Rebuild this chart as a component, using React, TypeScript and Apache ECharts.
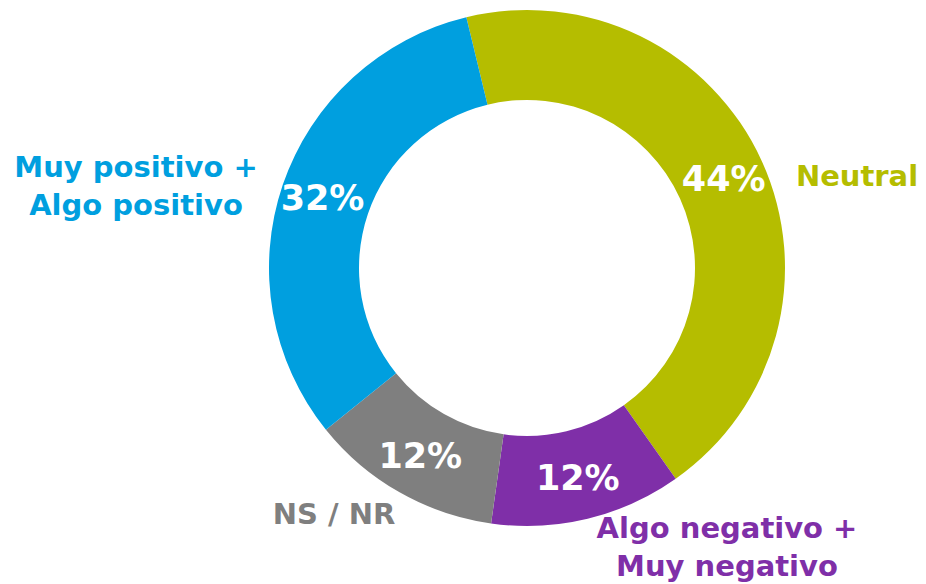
import React, { useEffect, useRef } from "react";
import * as echarts from "echarts";

const categories = ["Neutral", "Algo negativo +\nMuy negativo", "NS / NR", "Muy positivo +\nAlgo positivo"];
const values = [44, 12, 12, 32];
const colors = ["#b5bd00", "#7f2fa8", "#7f7f7f", "#009fdf"];
const labelPositions = [
  { x: 857, y: 176 },
  { x: 727, y: 547 },
  { x: 334, y: 514 },
  { x: 136, y: 186 },
];

export default function App() {
  const ref = useRef<HTMLDivElement>(null);
  useEffect(() => {
    if (!ref.current) return;
    const chart = echarts.init(ref.current, null, { renderer: "svg" });
    const data = categories.map((name, i) => ({
      name,
      value: values[i],
      itemStyle: { color: colors[i] },
    }));
    chart.setOption({
      animation: false,
      series: [
        {
          type: "pie",
          center: [527, 268],
          radius: [168, 258],
          startAngle: 103.6,
          clockwise: true,
          silent: true,
          data,
          label: {
            show: true,
            position: "inside",
            formatter: "{c}%",
            color: "#ffffff",
            fontFamily: "DejaVu Sans",
            fontWeight: "bold",
            fontSize: 35,
          },
          labelLine: { show: false },
          z: 2,
        },
        {
          type: "pie",
          center: [527, 268],
          radius: [168, 258],
          startAngle: 103.6,
          clockwise: true,
          silent: true,
          z: 1,
          data: categories.map((name, i) => ({
            name,
            value: values[i],
            itemStyle: { color: "rgba(0,0,0,0)" },
            label: { color: colors[i] },
          })),
          label: {
            show: true,
            position: "outside",
            alignTo: "none",
            overflow: "none",
            formatter: "{b}",
            fontFamily: "DejaVu Sans",
            fontWeight: "bold",
            fontSize: 29,
            lineHeight: 38,
            align: "center",
          },
          labelLine: { show: false },
          labelLayout: (params: any) => ({
            x: labelPositions[params.dataIndex].x,
            y: labelPositions[params.dataIndex].y,
            align: "center",
            verticalAlign: "middle",
            hideOverlap: false,
          }),
        },
      ],
    });
    return () => chart.dispose();
  }, []);
  return <div ref={ref} style={{ width: 926, height: 584, position: "absolute", left: 0, top: 0 }} />;
}
